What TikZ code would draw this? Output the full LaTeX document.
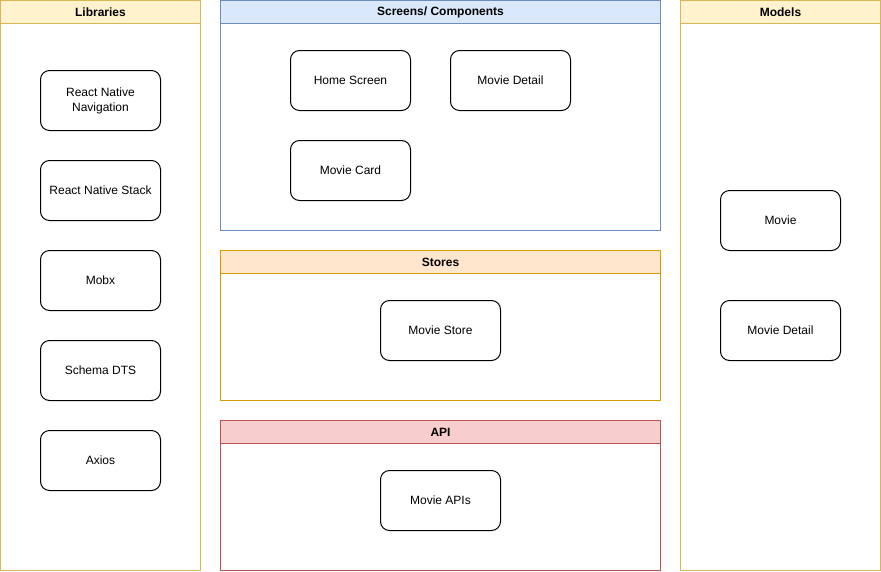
\documentclass[tikz,border=0pt]{standalone}
\usepackage{fontspec}
\setmainfont{Liberation Sans}
\definecolor{libfill}{HTML}{FFF2CC}
\definecolor{libdraw}{HTML}{D6B656}
\definecolor{scrfill}{HTML}{DAE8FC}
\definecolor{scrdraw}{HTML}{6C8EBF}
\definecolor{stofill}{HTML}{FFE6CC}
\definecolor{stodraw}{HTML}{D79B00}
\definecolor{apifill}{HTML}{F8CECC}
\definecolor{apidraw}{HTML}{B85450}
\begin{document}
\begin{tikzpicture}[x=1pt,y=-1pt,
  itembox/.style={draw=black, line width=1pt, rounded corners=9pt, minimum width=120pt, minimum height=60pt, align=center, font=\fontsize{12}{15}\selectfont, inner sep=0pt, fill=white},
  headtext/.style={font=\bfseries\fontsize{12}{14}\selectfont, inner sep=0pt},
  lanebody/.style={line width=1pt, fill=white},
  lanehead/.style={line width=1pt}]
\useasboundingbox (0,0) rectangle (881,571);
% Libraries
\draw[lanebody, draw=libdraw] (0.5,0.5) rectangle (200.5,570.5);
\draw[lanehead, draw=libdraw, fill=libfill] (0.5,0.5) rectangle (200.5,23.5);
\node[headtext] (hlib) at (100.5,12) {Libraries};
% Screens
\draw[lanebody, draw=scrdraw] (220.5,0.5) rectangle (660.5,230.5);
\draw[lanehead, draw=scrdraw, fill=scrfill] (220.5,0.5) rectangle (660.5,23.5);
\node[headtext] (hscr) at (440.5,12) {Screens/ Components};
% Stores
\draw[lanebody, draw=stodraw] (220.5,250.5) rectangle (660.5,400.5);
\draw[lanehead, draw=stodraw, fill=stofill] (220.5,250.5) rectangle (660.5,273.5);
\node[headtext] (hsto) at (440.5,262) {Stores};
% API
\draw[lanebody, draw=apidraw] (220.5,420.5) rectangle (660.5,570.5);
\draw[lanehead, draw=apidraw, fill=apifill] (220.5,420.5) rectangle (660.5,443.5);
\node[headtext] (hapi) at (440.5,432) {API};
% Models
\draw[lanebody, draw=libdraw] (680.5,0.5) rectangle (880.5,570.5);
\draw[lanehead, draw=libdraw, fill=libfill] (680.5,0.5) rectangle (880.5,23.5);
\node[headtext] (hmod) at (780.5,12) {Models};
% library items
\node[itembox] (rnn) at (100.5,100.5) {React Native\\Navigation};
\node[itembox] (rns) at (100.5,190.5) {React Native Stack};
\node[itembox] (mobx) at (100.5,280.5) {Mobx};
\node[itembox] (dts) at (100.5,370.5) {Schema DTS};
\node[itembox] (axios) at (100.5,460.5) {Axios};
% screens
\node[itembox] (home) at (350.5,80.5) {Home Screen};
\node[itembox] (mdet) at (510.5,80.5) {Movie Detail};
\node[itembox] (card) at (350.5,170.5) {Movie Card};
% stores
\node[itembox] (store) at (440.5,330.5) {Movie Store};
% api
\node[itembox] (apis) at (440.5,500.5) {Movie APIs};
% models
\node[itembox] (movie) at (780.5,220.5) {Movie};
\node[itembox] (mdetm) at (780.5,330.5) {Movie Detail};
\end{tikzpicture}
\end{document}
